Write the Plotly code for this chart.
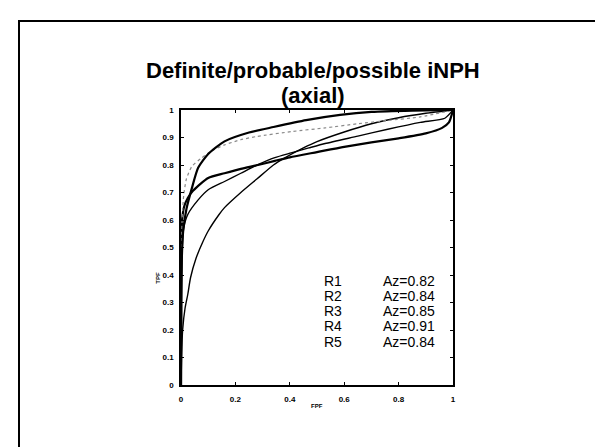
import plotly.graph_objects as go

# ---- data ----
title_line1 = "Definite/probable/possible iNPH"
title_line2 = "(axial)"

fpf_a = [0, 0.001, 0.003, 0.008, 0.02, 0.04, 0.063, 0.1, 0.16, 0.25, 0.34, 0.46, 0.585, 0.7, 0.85, 1.0]
tpf_a = [0, 0.30, 0.46, 0.56, 0.64, 0.716, 0.79, 0.84, 0.886, 0.918, 0.938, 0.963, 0.982, 0.993, 0.998, 1.0]

fpf_b = [0, 0.001, 0.004, 0.01, 0.02, 0.04, 0.075, 0.11, 0.16, 0.22, 0.28, 0.41, 0.53, 0.65, 0.76, 0.88, 1.0]
tpf_b = [0, 0.45, 0.60, 0.69, 0.75, 0.795, 0.825, 0.85, 0.873, 0.892, 0.904, 0.922, 0.935, 0.950, 0.962, 0.975, 1.0]

fpf_c = [0, 0.001, 0.004, 0.012, 0.025, 0.044, 0.1, 0.16, 0.22, 0.283, 0.345, 0.4, 0.5, 0.6, 0.7, 0.8, 0.9, 0.96, 0.985, 1.0]
tpf_c = [0, 0.40, 0.60, 0.65, 0.68, 0.706, 0.753, 0.77, 0.786, 0.80, 0.815, 0.828, 0.847, 0.866, 0.882, 0.897, 0.915, 0.935, 0.955, 1.0]

fpf_d = [0, 0.001, 0.004, 0.01, 0.025, 0.063, 0.1, 0.16, 0.22, 0.28, 0.345, 0.405, 0.47, 0.53, 0.65, 0.76, 0.88, 0.97, 1.0]
tpf_d = [0, 0.30, 0.48, 0.57, 0.62, 0.673, 0.71, 0.74, 0.77, 0.80, 0.827, 0.844, 0.862, 0.878, 0.905, 0.93, 0.955, 0.97, 1.0]

fpf_e = [0, 0.002, 0.006, 0.015, 0.025, 0.035, 0.055, 0.08, 0.1, 0.14, 0.16, 0.22, 0.28, 0.34, 0.38, 0.45, 0.5, 0.6, 0.7, 0.8, 0.9, 1.0]
tpf_e = [0, 0.10, 0.20, 0.28, 0.33, 0.39, 0.46, 0.52, 0.56, 0.62, 0.645, 0.70, 0.75, 0.80, 0.825, 0.862, 0.885, 0.92, 0.95, 0.972, 0.988, 1.0]

readers = ["R1", "R2", "R3", "R4", "R5"]
az_values = ["Az=0.82", "Az=0.84", "Az=0.85", "Az=0.91", "Az=0.84"]

x_ticks = [0, 0.2, 0.4, 0.6, 0.8, 1]
x_ticktext = ["0", "0.2", "0.4", "0.6", "0.8", "1"]
y_ticks = [0, 0.1, 0.2, 0.3, 0.4, 0.5, 0.6, 0.7, 0.8, 0.9, 1]
y_ticktext = ["0", "0.1", "0.2", "0.3", "0.4", "0.5", "0.6", "0.7", "0.8", "0.9", "1"]

FONT = "Liberation Sans, Arial, sans-serif"

# plot-area placement in pixels (left, right, top, bottom) and page size
L, R, T, B = 173, 445, 102, 377
W, H = 603, 447


def px_x(p):
    return (p - L) / (R - L)


def px_y(p):
    return (B - p) / (B - T)


fig = go.Figure()


def add_curve(x, y, width, color="black", dash="solid", name=""):
    fig.add_trace(go.Scatter(x=x, y=y, mode="lines", name=name,
                             line=dict(color=color, width=width, dash=dash,
                                       shape="spline", smoothing=0.6),
                             hoverinfo="skip", showlegend=False))


add_curve(fpf_e, tpf_e, 1.4, name="R1")
add_curve(fpf_d, tpf_d, 1.4, name="R5")
add_curve(fpf_c, tpf_c, 2.2, name="R2")
add_curve(fpf_b, tpf_b, 1.2, color="#8a8a8a", dash="dot", name="R3")
add_curve(fpf_a, tpf_a, 2.2, name="R4")

# reader / Az legend text
y0 = 0.38
dy = 0.0555
for i, (r, az) in enumerate(zip(readers, az_values)):
    yy = y0 - i * dy
    fig.add_annotation(x=0.52, y=yy, xref="x", yref="y", text=r, showarrow=False,
                       xanchor="left", yanchor="middle",
                       font=dict(family=FONT, size=14, color="black"))
    fig.add_annotation(x=0.735, y=yy, xref="x", yref="y", text=az, showarrow=False,
                       xanchor="left", yanchor="middle",
                       font=dict(family=FONT, size=14, color="black"))

# title (two lines)
fig.add_annotation(x=px_x(305), y=px_y(63), xref="paper", yref="paper",
                   text="<b>" + title_line1 + "</b>", showarrow=False,
                   xanchor="center", yanchor="middle",
                   font=dict(family=FONT, size=22, color="black"))
fig.add_annotation(x=px_x(305), y=px_y(87), xref="paper", yref="paper",
                   text="<b>" + title_line2 + "</b>", showarrow=False,
                   xanchor="center", yanchor="middle",
                   font=dict(family=FONT, size=22, color="black"))

# axis titles
fig.add_annotation(x=0.5, y=px_y(398), xref="paper", yref="paper",
                   text="FPF", showarrow=False, xanchor="center", yanchor="middle",
                   font=dict(family=FONT, size=6, color="black", weight="bold"))
fig.add_annotation(x=px_x(150), y=0.39, xref="paper", yref="paper",
                   text="TPF", showarrow=False, textangle=-90,
                   xanchor="center", yanchor="middle",
                   font=dict(family=FONT, size=6, color="black", weight="bold"))

# slide frame
fig.add_shape(type="rect", xref="paper", yref="paper",
              x0=px_x(11), x1=px_x(598), y0=px_y(470), y1=px_y(13),
              line=dict(color="black", width=2), fillcolor="rgba(0,0,0,0)",
              layer="below")

axis_common = dict(range=[0, 1], showgrid=False, zeroline=False,
                   showline=True, linecolor="black", linewidth=1.6,
                   mirror="ticks", ticks="inside", ticklen=3, tickwidth=1,
                   tickcolor="black",
                   tickfont=dict(family=FONT, size=8, color="black", weight="bold"),
                   fixedrange=True)

fig.update_xaxes(tickvals=x_ticks, ticktext=x_ticktext, ticklabelstandoff=6, **axis_common)
fig.update_yaxes(tickvals=y_ticks, ticktext=y_ticktext, ticklabelstandoff=4, **axis_common)

fig.update_layout(width=W, height=H, autosize=False,
                  margin=dict(l=L, r=W - R, t=T, b=H - B, pad=0),
                  paper_bgcolor="white", plot_bgcolor="white",
                  showlegend=False)

fig.write_html("out.html")
